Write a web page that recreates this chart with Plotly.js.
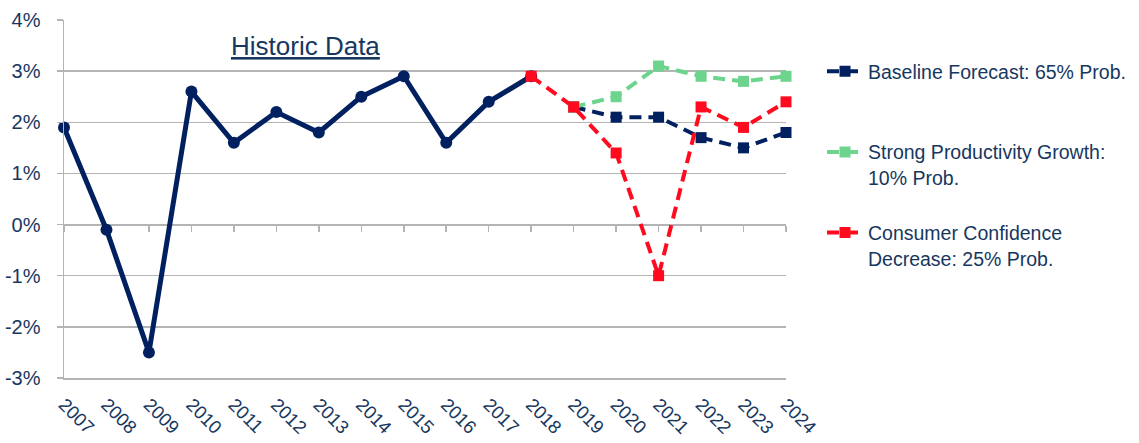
<!DOCTYPE html>
<html>
<head>
<meta charset="utf-8">
<script src="https://cdn.plot.ly/plotly-3.0.1.min.js"></script>
<style>html,body{margin:0;padding:0;background:#fff;}#chart{width:1139px;height:443px;}</style>
</head>
<body>
<div id="chart"></div>
<script>
// Data (percent)
const histYears = [2007,2008,2009,2010,2011,2012,2013,2014,2015,2016,2017,2018];
const histValues = [1.9,-0.1,-2.5,2.6,1.6,2.2,1.8,2.5,2.9,1.6,2.4,2.9];
const baseYears = [2019,2020,2021,2022,2023,2024];
const baseValues = [2.3,2.1,2.1,1.7,1.5,1.8];
const strongYears = [2019,2020,2021,2022,2023,2024];
const strongValues = [2.3,2.5,3.1,2.9,2.8,2.9];
const consumerYears = [2018,2019,2020,2021,2022,2023,2024];
const consumerValues = [2.9,2.3,1.4,-1.0,2.3,1.9,2.4];
const yTickVals = [-3,-2,-1,0,1,2,3,4];
const yTickLabels = ['-3%','-2%','-1%','0%','1%','2%','3%','4%'];
const seriesNames = ["Baseline Forecast: 65% Prob.<br>&nbsp;", "Strong Productivity Growth:<br>10% Prob.", "Consumer Confidence<br>Decrease: 25% Prob."];
const annotationText = "Historic Data";

const navy = '#002060';
const green = '#6cd48c';
const red = '#ff0a1e';
const textColor = '#17375e';
const gridColor = '#b4b4b4';
const font = 'Arial, "Liberation Sans", sans-serif';
const dash = '12px,7px';

const traces = [
  {x: histYears, y: histValues, type: 'scatter', mode: 'lines+markers', showlegend: false,
   line: {color: navy, width: 5}, marker: {symbol: 'circle', size: 12, color: navy}, cliponaxis: false},
  {x: baseYears, y: baseValues, type: 'scatter', mode: 'lines+markers', name: seriesNames[0], legendgroup: 'a',
   line: {color: navy, width: 4, dash: dash}, marker: {symbol: 'square', size: 11, color: navy}, cliponaxis: false},
  {x: strongYears, y: strongValues, type: 'scatter', mode: 'lines+markers', name: seriesNames[1], legendgroup: 'b',
   line: {color: green, width: 4, dash: dash}, marker: {symbol: 'square', size: 11, color: green}, cliponaxis: false},
  {x: consumerYears, y: consumerValues, type: 'scatter', mode: 'lines+markers', name: seriesNames[2], legendgroup: 'c',
   line: {color: red, width: 4, dash: dash}, marker: {symbol: 'square', size: 11, color: red}, cliponaxis: false},
  {x: histYears, y: histValues, xaxis: 'x2', type: 'scatter', mode: 'lines', showlegend: false, hoverinfo: 'skip',
   opacity: 0, line: {width: 0}}
];

const layout = {
  width: 1139, height: 443,
  margin: {l: 64, r: 353, t: 20, b: 65, autoexpand: false},
  paper_bgcolor: '#fff', plot_bgcolor: '#fff',
  font: {family: font, color: textColor},
  showlegend: true,
  xaxis: {
    range: [2007, 2024], dtick: 1, tick0: 2007, tickformat: 'd',
    tickangle: 45, tickfont: {size: 18.5, color: textColor, family: font},
    showgrid: false, zeroline: false, showline: true, linecolor: gridColor, linewidth: 1.5,
    ticks: '', ticklabelstandoff: 7, fixedrange: true, automargin: false
  },
  xaxis2: {
    overlaying: 'x', anchor: 'free', position: 3/7, side: 'bottom',
    range: [2007, 2024], dtick: 1, tick0: 2007,
    showticklabels: false, showgrid: false, zeroline: false,
    showline: true, linecolor: gridColor, linewidth: 1.5,
    ticks: 'outside', ticklen: 6, tickwidth: 1.5, tickcolor: gridColor, layer: 'below traces'
  },
  yaxis: {
    range: [-3, 4], tickmode: 'array', tickvals: yTickVals, ticktext: yTickLabels,
    tickfont: {size: 20, color: textColor, family: font},
    showgrid: true, gridcolor: gridColor, gridwidth: 1.5,
    zeroline: false, showline: true, linecolor: gridColor, linewidth: 1.5,
    ticks: 'outside', ticklen: 6, tickwidth: 1.5, tickcolor: gridColor,
    ticklabelstandoff: 12, fixedrange: true, automargin: false
  },
  legend: {
    xref: 'container', yref: 'container',
    x: 822/1139, xanchor: 'left', y: 1 - 52/443, yanchor: 'top',
    font: {size: 19.5, color: textColor, family: font},
    valign: 'top', tracegroupgap: 27, itemwidth: 36,
    bgcolor: 'rgba(0,0,0,0)'
  },
  annotations: [{
    text: '<u>' + annotationText + '</u>', xref: 'paper', yref: 'paper',
    x: 0.335, y: 0.927, xanchor: 'center', yanchor: 'middle', showarrow: false,
    font: {size: 26, color: textColor, family: font}
  }]
};

Plotly.newPlot('chart', traces, layout, {displayModeBar: false, staticPlot: true});
</script>
</body>
</html>
